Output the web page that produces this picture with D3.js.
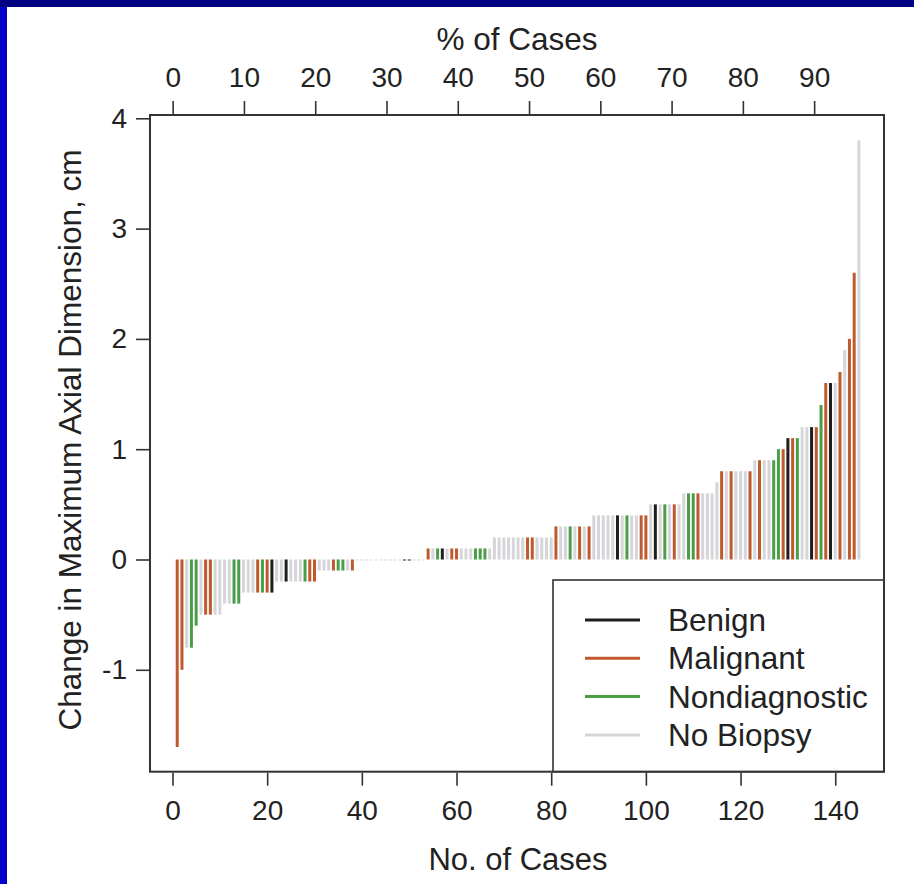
<!DOCTYPE html>
<html>
<head>
<meta charset="utf-8">
<script src="https://d3js.org/d3.v7.min.js"></script>
<style>
body { margin: 0; background: #000080; }
text { font-family: "Liberation Sans", Arial, sans-serif; fill: #222; }
</style>
</head>
<body>
<svg class="chart"></svg>
<script>
// sorted change in max axial dimension per case (cm), case number = index + 1
var values = [
	-1.7, -1.0, -0.8, -0.8, -0.6, -0.5, -0.5, -0.5, -0.5, -0.5,
	-0.4, -0.4, -0.4, -0.4, -0.3, -0.3, -0.3, -0.3, -0.3, -0.3,
	-0.3, -0.2, -0.2, -0.2, -0.2, -0.2, -0.2, -0.2, -0.2, -0.2,
	-0.1, -0.1, -0.1, -0.1, -0.1, -0.1, -0.1, -0.1, 0, 0,
	0, 0, 0, 0, 0, 0, 0, 0, 0, 0,
	0, 0, 0, 0.1, 0.1, 0.1, 0.1, 0.1, 0.1, 0.1,
	0.1, 0.1, 0.1, 0.1, 0.1, 0.1, 0.1, 0.2, 0.2, 0.2,
	0.2, 0.2, 0.2, 0.2, 0.2, 0.2, 0.2, 0.2, 0.2, 0.2,
	0.3, 0.3, 0.3, 0.3, 0.3, 0.3, 0.3, 0.3, 0.4, 0.4,
	0.4, 0.4, 0.4, 0.4, 0.4, 0.4, 0.4, 0.4, 0.4, 0.4,
	0.5, 0.5, 0.5, 0.5, 0.5, 0.5, 0.5, 0.6, 0.6, 0.6,
	0.6, 0.6, 0.6, 0.6, 0.7, 0.8, 0.8, 0.8, 0.8, 0.8,
	0.8, 0.8, 0.9, 0.9, 0.9, 0.9, 0.9, 1.0, 1.0, 1.1,
	1.1, 1.1, 1.2, 1.2, 1.2, 1.2, 1.4, 1.6, 1.6, 1.6,
	1.7, 1.9, 2.0, 2.6, 3.8
];

// B = Benign, M = Malignant, N = Nondiagnostic, X = No Biopsy
var groups = (
	"MMXNNXMMXX" + "XXNNXXXMNM" + "BXXBXXXNMM" + "XXXMNNXMXX" +
	"XXXXXXXXBB" + "XXXMXNBXMM" + "XXXNNNXXXX" + "XXXXMMXXXX" +
	"MXXNXMXMXX" + "XXXBXNXXMM" + "XBXNXMXXNN" + "MXXXXMXMXX" +
	"XMXMXXNNMB" + "MNXXBMNMBX" + "MXMMX"
).split("");

var categories = ["Benign", "Malignant", "Nondiagnostic", "No Biopsy"];
var codes = ["B", "M", "N", "X"];
var colors = ["#1e1e1e", "#c05a2e", "#4a9e48", "#d6d6da"];

var caseTicks = [0, 20, 40, 60, 80, 100, 120, 140];
var pctTicks = [0, 10, 20, 30, 40, 50, 60, 70, 80, 90];
var yTicks = [-1, 0, 1, 2, 3, 4];

var data = values.map(function(v, i) { return {n: i + 1, value: v, group: groups[i]}; });

var W = 914, H = 884;
var frame = {left: 150, right: 884, top: 115, bottom: 771.7};

var x = d3.scaleLinear().domain([-4.75, 150.3]).range([frame.left, frame.right]);
var pct = d3.scaleLinear().domain([-3.18, 99.8]).range([frame.left, frame.right]);
var y = d3.scaleLinear().domain([-1.924, 4.03]).range([frame.bottom, frame.top]);
var color = d3.scaleOrdinal().domain(codes).range(colors);

var chart = d3.select(".chart")
	.attr("width", W)
	.attr("height", H);

chart.append("rect")
	.attr("x", 7).attr("y", 7)
	.attr("width", W - 7).attr("height", H - 7)
	.attr("fill", "#fff");
chart.append("rect")
	.attr("x", 0).attr("y", 7)
	.attr("width", 7).attr("height", H - 7)
	.attr("fill", "#0000c8");

// bars (R type="h" style)
chart.append("g").selectAll("rect")
	.data(data)
.enter().append("rect")
	.attr("x", function(d) { return x(d.n) - 1.5; })
	.attr("width", 3)
	.attr("y", function(d) { return Math.min(y(d.value), y(0)); })
	.attr("height", function(d) { return Math.max(Math.abs(y(d.value) - y(0)), 1); })
	.attr("fill", function(d) { return color(d.group); });

// axes
var xAxisG = chart.append("g")
	.attr("transform", "translate(0," + (frame.bottom + 1) + ")")
	.call(d3.axisBottom(x).tickValues(caseTicks).tickSize(13).tickPadding(14));
var pctAxisG = chart.append("g")
	.attr("transform", "translate(0," + (frame.top - 1) + ")")
	.call(d3.axisTop(pct).tickValues(pctTicks).tickSize(13).tickPadding(14));
var yAxisG = chart.append("g")
	.attr("transform", "translate(" + (frame.left - 1) + ",0)")
	.call(d3.axisLeft(y).tickValues(yTicks).tickSize(13).tickPadding(9).tickFormat(d3.format("d")));

[xAxisG, pctAxisG, yAxisG].forEach(function(g) {
	g.select(".domain").remove();
	g.selectAll(".tick line").attr("stroke", "#333").attr("stroke-width", 1.6);
	g.selectAll(".tick text").style("font-size", "28px").attr("fill", "#222")
		.style("font-family", "'Liberation Sans', Arial, sans-serif");
});
yAxisG.selectAll(".tick text").text(function(d) { return d < 0 ? "-" + (-d) : d; });

// legend box
var lg = chart.append("g");
lg.append("rect")
	.attr("x", 553).attr("y", 580)
	.attr("width", frame.right - 553).attr("height", frame.bottom - 580)
	.attr("fill", "#fff")
	.attr("stroke", "#333").attr("stroke-width", 1.6);

var item = lg.selectAll("g.item")
	.data(categories)
.enter().append("g")
	.attr("class", "item")
	.attr("transform", function(d, i) { return "translate(0," + (620 + i * 38.3) + ")"; });
item.append("line")
	.attr("x1", 585).attr("x2", 640)
	.attr("stroke", function(d, i) { return colors[i]; })
	.attr("stroke-width", 3);
item.append("text")
	.attr("x", 668)
	.attr("dy", ".35em")
	.style("font-size", "31.5px")
	.text(function(d) { return d; });

chart.append("rect")
	.attr("x", frame.left).attr("y", frame.top)
	.attr("width", frame.right - frame.left).attr("height", frame.bottom - frame.top)
	.attr("fill", "none")
	.attr("stroke", "#333").attr("stroke-width", 2);

// titles
chart.append("text")
	.attr("x", 517).attr("y", 50)
	.style("text-anchor", "middle").style("font-size", "31.5px")
	.text("% of Cases");
chart.append("text")
	.attr("x", 518).attr("y", 870)
	.style("text-anchor", "middle").style("font-size", "31px")
	.text("No. of Cases");
chart.append("text")
	.attr("transform", "translate(81,440) rotate(-90)")
	.style("text-anchor", "middle").style("font-size", "31.5px")
	.text("Change in Maximum Axial Dimension, cm");
</script>
</body>
</html>
